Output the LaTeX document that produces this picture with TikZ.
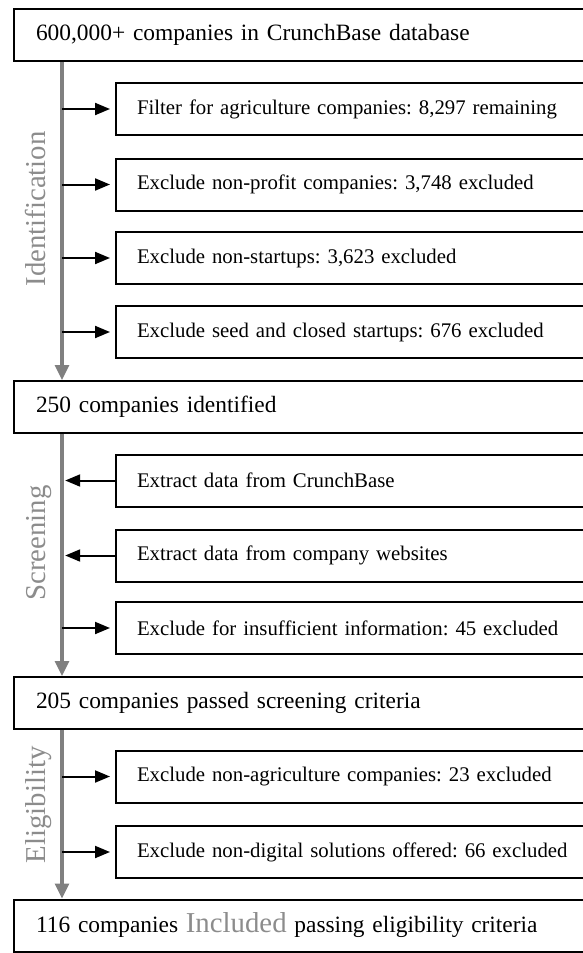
\documentclass[tikz,border=0pt]{standalone}
\usepackage{fontspec}
\setmainfont{Liberation Serif}
\usetikzlibrary{arrows.meta}
\frenchspacing

\definecolor{spinegray}{RGB}{128,128,128}
\definecolor{phasegray}{RGB}{140,140,140}

\tikzset{
    mainbox/.style={draw,line width=1pt,anchor=west,minimum height=26pt,
        text width=290pt,align=left,inner xsep=11pt,font=\fontsize{11.7}{14}\selectfont},
    subbox/.style={draw,line width=1pt,anchor=west,minimum height=26pt,
        text width=250pt,align=left,inner xsep=10.5pt,font=\fontsize{10.4}{12}\selectfont},
    spine/.style={draw=spinegray,line width=1.6pt,-{Triangle[length=7.5pt,width=7pt]}},
    feed/.style={line width=1pt,-{Triangle[length=7.5pt,width=6pt]}},
    phase/.style={text=phasegray,rotate=90,anchor=base,inner sep=0,font=\fontsize{14.4}{16}\selectfont}
}

\begin{document}
\begin{tikzpicture}[x=0.5pt,y=-0.5pt]
    \useasboundingbox (0,0) rectangle (583,953);
    \clip (0,0) rectangle (583,953);
    \providecommand{\phasefont}{\fontsize{14.4}{16}\selectfont}
    \coordinate (spine) at (62,0);
    % stages
    \node[mainbox] (crunch) at (13,35) {600,000+ companies in CrunchBase database};
    \node[mainbox] (identified) at (13,407) {250 companies identified};
    \node[mainbox] (screened) at (13,703) {205 companies passed screening criteria};
    \node[mainbox] (included) at (13,925.5) {116 companies {\phasefont\color{phasegray}Included} passing eligibility criteria};
    % identification steps
    \node[subbox] (agri) at (115,109) {Filter for agriculture companies: 8,297 remaining};
    \node[subbox] (nonprofit) at (115,184.5) {Exclude non-profit companies: 3,748 excluded};
    \node[subbox] (nonstartup) at (115,258) {Exclude non-startups: 3,623 excluded};
    \node[subbox] (seed) at (115,332) {Exclude seed and closed startups: 676 excluded};
    % screening steps
    \node[subbox] (crunchdata) at (115,480.5) {Extract data from CrunchBase};
    \node[subbox] (webdata) at (115,555.5) {Extract data from company websites};
    \node[subbox] (insuff) at (115,628) {Exclude for insufficient information: 45 excluded};
    % eligibility steps
    \node[subbox] (nonagri) at (115,776.5) {Exclude non-agriculture companies: 23 excluded};
    \node[subbox] (nondigital) at (115,852) {Exclude non-digital solutions offered: 66 excluded};
    % spine arrows
    \draw[spine] (crunch.south -| spine) -- (identified.north -| spine);
    \draw[spine] (identified.south -| spine) -- (screened.north -| spine);
    \draw[spine] (screened.south -| spine) -- (included.north -| spine);
    \foreach \step in {agri,nonprofit,nonstartup,seed,insuff,nonagri,nondigital}
        \draw[feed,shorten >=2.5pt] (\step.west -| spine) -- (\step.west);
    \foreach \step in {crunchdata,webdata}
        \draw[feed,shorten >=1.6pt] (\step.west) -- (\step.west -| spine);
    % phase labels
    \node[phase] (identlabel) at (45,209) {Identification};
    \node[phase] (screenlabel) at (45,543) {Screening};
    \node[phase] (eliglabel) at (45,805) {Eligibility};
\end{tikzpicture}
\end{document}
